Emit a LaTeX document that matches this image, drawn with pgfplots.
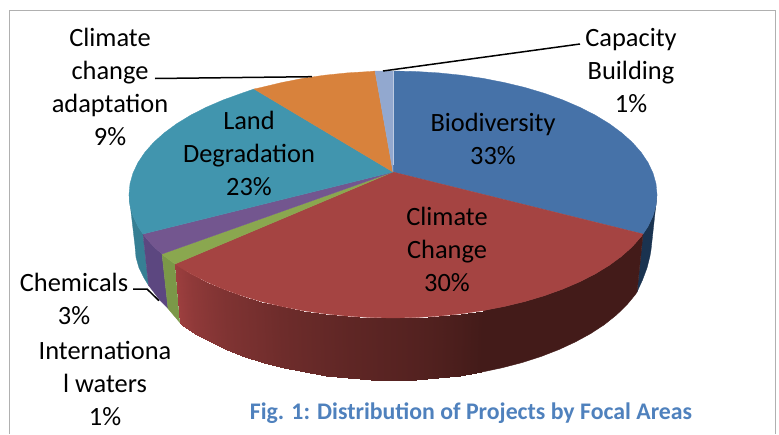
\documentclass[border=0pt]{standalone}
\usepackage{fontspec}
\setmainfont{Carlito}
\usepackage{pgfplots}
\pgfplotsset{compat=1.18}
\definecolor{tBlue}{HTML}{4672A8}
\definecolor{tRed}{HTML}{A54442}
\definecolor{tGreen}{HTML}{8AA74F}
\definecolor{tPurple}{HTML}{73568F}
\definecolor{tTeal}{HTML}{4195AE}
\definecolor{tOrange}{HTML}{D8823C}
\definecolor{tLight}{HTML}{92A8CF}
\definecolor{sBlue}{HTML}{1A3350}
\definecolor{sGreen}{HTML}{7B9848}
\definecolor{sPurple}{HTML}{5C4780}
\definecolor{sTeal}{HTML}{367F94}
\definecolor{sRedL}{HTML}{A24141}
\definecolor{sRedD}{HTML}{431B19}
\definecolor{frameGray}{HTML}{B0B0B0}
\definecolor{titleBlue}{HTML}{4F81BD}
\tikzset{lbl/.style={align=center,inner sep=0pt,font=\fontsize{26.4}{33}\selectfont,text=black}}
\pgfplotsset{
  face/.style={fill=#1,draw=#1,line width=0.3pt,mark=none},
  strip/.style={fill=sRedL!#1!sRedD,draw=sRedL!#1!sRedD,line width=0.4pt,mark=none},
  lead/.style={black,line width=1.5pt,mark=none}
}
\begin{document}
\begin{tikzpicture}[x=1pt,y=1pt]
\useasboundingbox (0,0) rectangle (779,434);
\begin{axis}[at={(0,0)},anchor=south west,width=779pt,height=434pt,scale only axis,
  xmin=0,xmax=779,ymin=0,ymax=434,y dir=reverse,hide axis,clip=false,
  colormap={redwall}{color=(sRedD) color=(sRedL)},point meta min=0,point meta max=100]
% frame
\addplot[frameGray,line width=1pt,mark=none] coordinates {(9.5,434)(9.5,10.5)(775,10.5)(775,434)};
% side walls
\addplot[face=sBlue] coordinates {(643,234)(648,226.5)(653,215.9)(656,205.3)(657,194.5)(651,250)(650,256)(647,268)(642.5,280)(637,292)} --cycle;
\addplot[face=sTeal] coordinates {(143,234)(138,226.5)(133,215.9)(130,205.3)(129,194.5)(135,246)(136,257.3)(138.9,267.6)(143.8,277.6)(148.6,285.5)} --cycle;
\addplot[face=sPurple] coordinates {(162,254)(153.7,246.7)(144.9,236.7)(143,234)(148.6,285.5)(150.6,288)(159.7,300)(168,308.5)} --cycle;
\addplot[face=sGreen] coordinates {(175,264)(164.4,256.25)(162,254)(168,308.5)(170,311)(179.8,322.5)} --cycle;
% red wall, dark part
\addplot[strip=0] coordinates {(643,234)(641.1,236.7)(632.3,246.7)(621.6,256.25)(609.3,265.3)(595.2,273.9)(579.7,281.8)(562.7,289.1)(544.4,295.7)(525,301.5)(504.6,306.4)(483.3,310.6)(481.2,372.2)(502,367.8)(522,362.6)(541,356.5)(558.8,349.6)(575.4,341.9)(590.6,333.6)(604.4,324.6)(616.4,315)(626.8,304.9)(635.4,294.5)(637,292)} --cycle;
% red wall, gradient
\addplot[patch,patch type=rectangle,shader=interp,point meta=explicit] table[meta=c] {
x y c
483.3 310.6 0
461.3 313.8 7
459.8 375.6 7
481.2 372.2 0
461.3 313.8 7
438.8 316.1 13
437.8 378 13
459.8 375.6 7
438.8 316.1 13
416 317.5 18
415.5 379.5 18
437.8 378 13
416 317.5 18
393 318 22
393 380 22
415.5 379.5 18
393 318 22
370 317.5 26
370.5 379.5 26
393 380 22
370 317.5 26
347.2 316.1 30
348.2 378 30
370.5 379.5 26
347.2 316.1 30
324.7 313.8 35
326.2 375.6 35
348.2 378 30
324.7 313.8 35
302.7 310.6 40
304.8 372.2 40
326.2 375.6 35
302.7 310.6 40
281.4 306.4 45
284 367.8 45
304.8 372.2 40
281.4 306.4 45
261 301.5 52
264 362.6 52
284 367.8 45
261 301.5 52
241.6 295.7 58
245 356.5 58
264 362.6 52
241.6 295.7 58
223.3 289.1 64
227.2 349.6 64
245 356.5 58
223.3 289.1 64
206.3 281.8 72
210.6 341.9 72
227.2 349.6 64
206.3 281.8 72
190.8 273.9 80
195.4 333.6 80
210.6 341.9 72
190.8 273.9 80
176.7 265.3 92
181.6 324.6 92
195.4 333.6 80
176.7 265.3 92
175 264 96
179.8 322.5 96
181.6 324.6 92
};
% top faces
\addplot[face=tBlue] coordinates {(393,172)(393,71)(416,71.5)(438.8,72.9)(461.3,75.2)(483.3,78.4)(504.6,82.6)(525,87.5)(544.4,93.3)(562.7,99.9)(579.7,107.2)(595.2,115.1)(609.3,123.7)(621.6,132.75)(632.3,142.3)(641.1,152.3)(648,162.5)(653,173.1)(656,183.7)(657,194.5)(656,205.3)(653,215.9)(648,226.5)(643,234)} --cycle;
\addplot[face=tRed] coordinates {(393,172)(643,234)(641.1,236.7)(632.3,246.7)(621.6,256.25)(609.3,265.3)(595.2,273.9)(579.7,281.8)(562.7,289.1)(544.4,295.7)(525,301.5)(504.6,306.4)(483.3,310.6)(461.3,313.8)(438.8,316.1)(416,317.5)(393,318)(370,317.5)(347.2,316.1)(324.7,313.8)(302.7,310.6)(281.4,306.4)(261,301.5)(241.6,295.7)(223.3,289.1)(206.3,281.8)(190.8,273.9)(176.7,265.3)(175,264)} --cycle;
\addplot[face=tGreen] coordinates {(393,172)(175,264)(164.4,256.25)(162,254)} --cycle;
\addplot[face=tPurple] coordinates {(393,172)(162,254)(153.7,246.7)(144.9,236.7)(143,234)} --cycle;
\addplot[face=tTeal] coordinates {(393,172)(143,234)(138,226.5)(133,215.9)(130,205.3)(129,194.5)(130,183.7)(133,173.1)(138,162.5)(144.9,152.3)(153.7,142.3)(164.4,132.75)(176.7,123.7)(190.8,115.1)(206.3,107.2)(223.3,99.9)(241.6,93.3)(254,89)} --cycle;
\addplot[face=tOrange] coordinates {(393,172)(254,89)(261,87.5)(281.4,82.6)(302.7,78.4)(324.7,75.2)(347.2,72.9)(370,71.5)(375,71)} --cycle;
\addplot[face=tLight] coordinates {(393,172)(375,71)(393,71)} --cycle;
\addplot[color=tLight!60!white,line width=0.6pt,mark=none] coordinates {(393.3,71)(393.3,165)};
% leader lines
\addplot[lead] coordinates {(155,78.5)(312,76.7)};
\addplot[lead] coordinates {(383,71)(580,44)};
\addplot[lead] coordinates {(133,289)(147,289)(159,300.7)};
% labels
\node[lbl] at (axis cs:110,87) {Climate\\change\\adaptation\\9\%};
\node[lbl] at (axis cs:631,71) {Capacity\\Building\\1\%};
\node[lbl] at (axis cs:493,138.5) {Biodiversity\\33\%};
\node[lbl] at (axis cs:249,153.5) {Land\\Degradation\\23\%};
\node[lbl] at (axis cs:447,249) {Climate\\Change\\30\%};
\node[lbl] at (axis cs:74,298.5) {Chemicals\\3\%};
\node[lbl] at (axis cs:105,383) {Internationa\\l waters\\1\%};
\node[inner sep=0pt,font=\fontsize{23.8}{28}\selectfont\bfseries,text=titleBlue] at (axis cs:471,413) {Fig. 1: Distribution of Projects by Focal Areas};
\end{axis}
\end{tikzpicture}
\end{document}
